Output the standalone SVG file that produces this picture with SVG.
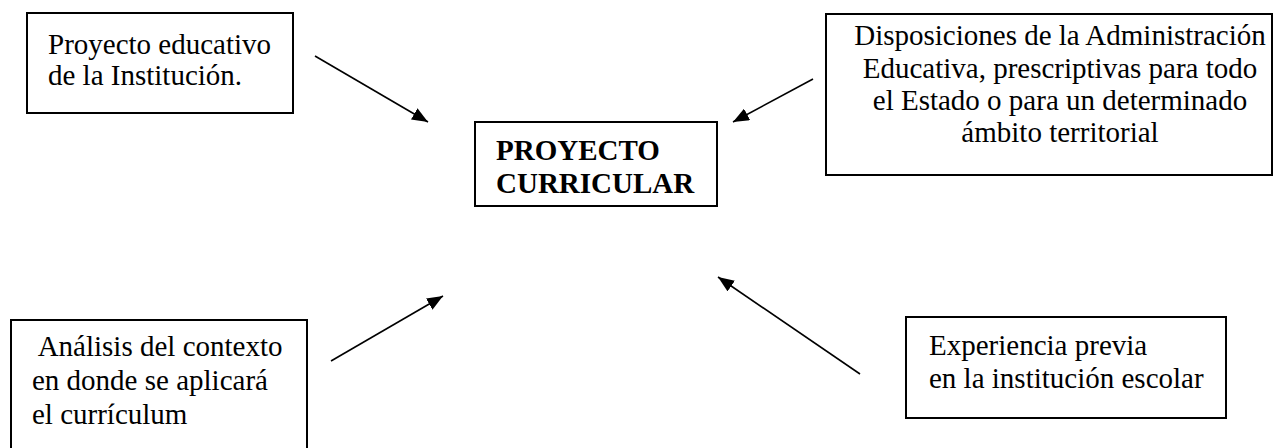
<svg xmlns="http://www.w3.org/2000/svg" width="1275" height="448" viewBox="0 0 1275 448">
  <defs>
    <style>
      .box { fill: #ffffff; stroke: #000000; stroke-width: 2; }
      .t { font-family: "Liberation Serif", "Times New Roman", serif; font-size: 29px; fill: #000000; }
      .b { font-weight: bold; }
      .conn { stroke: #000000; stroke-width: 1.6; fill: none; marker-end: url(#arrow); }
    </style>
    <marker id="arrow" viewBox="0 0 16 13" refX="16" refY="6.5" markerWidth="16" markerHeight="13" markerUnits="userSpaceOnUse" orient="auto">
      <path d="M0,0 L16,6.5 L0,13 z" fill="#000000"/>
    </marker>
  </defs>
  <rect width="1275" height="448" fill="#ffffff"/>

  <g id="node-proyecto-educativo">
    <rect class="box" x="27" y="13" width="266" height="100"/>
    <text class="t" x="48" y="54">Proyecto educativo</text>
    <text class="t" x="48" y="85">de la Institución.</text>
  </g>

  <g id="node-disposiciones">
    <rect class="box" x="826" y="14" width="446" height="161"/>
    <text class="t" text-anchor="middle" x="1060" y="45">Disposiciones de la Administración</text>
    <text class="t" text-anchor="middle" x="1060" y="78">Educativa, prescriptivas para todo</text>
    <text class="t" text-anchor="middle" x="1060" y="110">el Estado o para un determinado</text>
    <text class="t" text-anchor="middle" x="1060" y="142">ámbito territorial</text>
  </g>

  <g id="node-proyecto-curricular">
    <rect class="box" x="475" y="122" width="242" height="84"/>
    <text class="t b" x="496" y="160">PROYECTO</text>
    <text class="t b" x="496" y="193">CURRICULAR</text>
  </g>

  <g id="node-analisis">
    <rect class="box" x="11" y="320" width="296" height="140"/>
    <text class="t" x="32" y="356" xml:space="preserve"> Análisis del contexto</text>
    <text class="t" x="32" y="390">en donde se aplicará</text>
    <text class="t" x="32" y="424">el currículum</text>
  </g>

  <g id="node-experiencia">
    <rect class="box" x="906" y="317" width="320" height="101"/>
    <text class="t" x="929" y="355">Experiencia previa</text>
    <text class="t" x="929" y="388">en la institución escolar</text>
  </g>

  <g id="connectors">
    <line class="conn" x1="315" y1="56" x2="428" y2="122"/>
    <line class="conn" x1="813" y1="79" x2="733" y2="122"/>
    <line class="conn" x1="331" y1="361" x2="443" y2="296"/>
    <line class="conn" x1="860" y1="374" x2="718" y2="277"/>
  </g>
</svg>
